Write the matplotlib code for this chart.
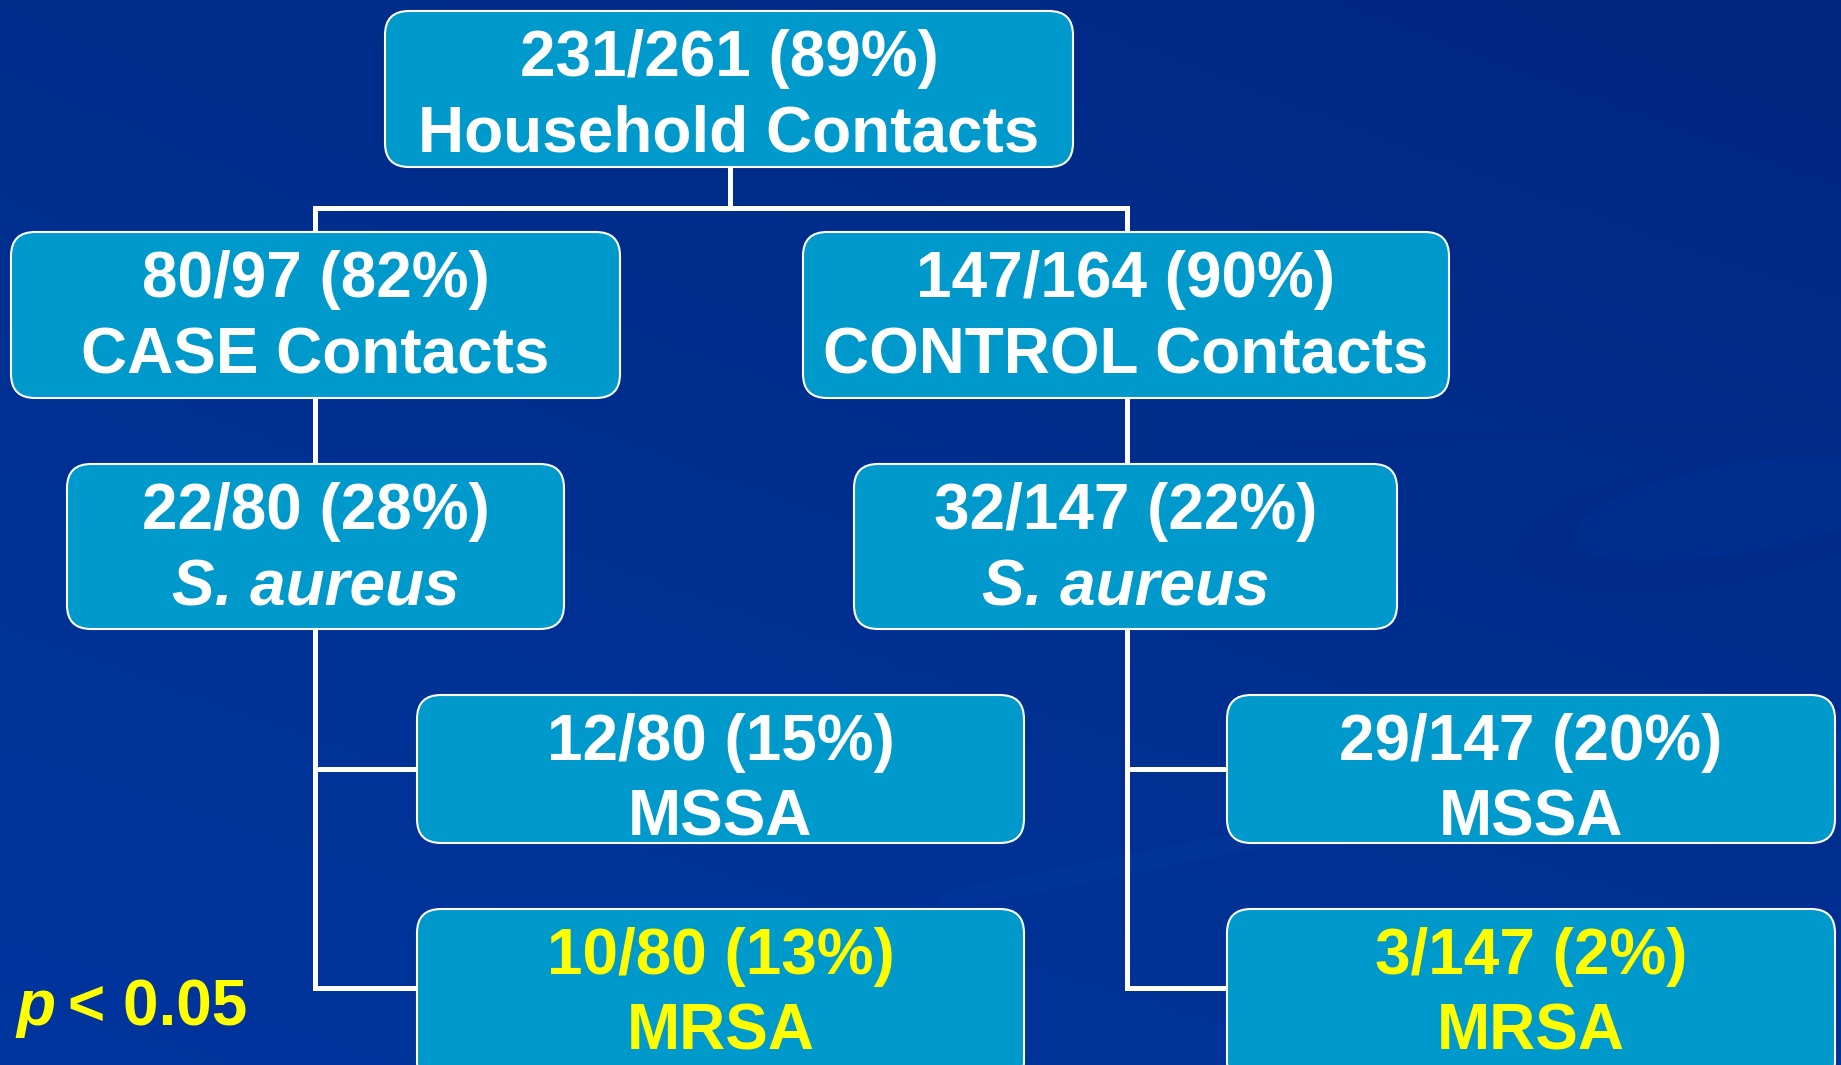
import numpy as np
import matplotlib
matplotlib.use("Agg")
import matplotlib.pyplot as plt
from matplotlib.patches import FancyBboxPatch, Ellipse

# tree values
numerators = [231, 80, 147, 22, 32, 12, 29, 10, 3]
denominators = [261, 97, 164, 80, 147, 80, 147, 80, 147]
percents = [89, 82, 90, 28, 22, 15, 20, 13, 2]
names = ["Household Contacts", "CASE Contacts", "CONTROL Contacts",
         "S. aureus", "S. aureus", "MSSA", "MSSA", "MRSA", "MRSA"]
p_label = "< 0.05"

# layout in pixels (x0, y0, x1, y1)
boxes = [
    (385, 11, 1073, 167),
    (11, 232, 620, 398),
    (803, 232, 1449, 398),
    (67, 464, 564, 629),
    (854, 464, 1397, 629),
    (417, 695, 1024, 843),
    (1227, 695, 1835, 843),
    (417, 909, 1024, 1085),
    (1227, 909, 1835, 1085),
]
yellow_nodes = {7, 8}
italic_nodes = {3, 4}

W, H = 1841, 1065
fig = plt.figure(figsize=(W / 100, H / 100), dpi=100)
ax = fig.add_axes([0, 0, 1, 1])
ax.set_xlim(0, W)
ax.set_ylim(H, 0)
ax.axis("off")

# background gradient
yy, xx = np.mgrid[0:1:200j, 0:1:300j]
t = np.clip(0.55 * yy + 0.25 * (1 - xx) * yy + 0.35 * (1 - yy) * (1 - xx) + 0.2, 0, 1)
top = np.array([0.0, 0.14, 0.47])
bot = np.array([0.0, 0.21, 0.62])
bg = top[None, None, :] * (1 - t[..., None]) + bot[None, None, :] * t[..., None]
ax.imshow(bg, extent=[0, W, H, 0], aspect="auto", zorder=0)

# subtle swirl shapes on the right
ax.add_patch(Ellipse((1720, 520), 420, 130, angle=-10, fc=(0.0, 0.16, 0.52), ec="none", alpha=0.35, zorder=0.5))
ax.add_patch(Ellipse((1740, 508), 340, 90, angle=-10, fc=(0.0, 0.2, 0.6), ec="none", alpha=0.45, zorder=0.6))
ax.plot([950, 1300, 1841], [900, 830, 740], color=(0.05, 0.25, 0.65), lw=14, alpha=0.2, zorder=0.5)
ax.plot([1000, 1400, 1841], [460, 440, 420], color=(0.0, 0.17, 0.52), lw=8, alpha=0.25, zorder=0.5)

lw = 3.6
line_kw = dict(color="white", lw=lw, solid_capstyle="projecting", zorder=1)

# connectors
ax.plot([730, 730], [167, 208], **line_kw)
ax.plot([315, 1127], [208, 208], **line_kw)
ax.plot([315, 315], [208, 232], **line_kw)
ax.plot([1127, 1127], [208, 232], **line_kw)
ax.plot([315, 315], [398, 464], **line_kw)
ax.plot([1127, 1127], [398, 464], **line_kw)
for xv, xb in [(315, 417), (1127, 1227)]:
    ax.plot([xv, xv], [629, 988], **line_kw)
    ax.plot([xv, xb], [769, 769], **line_kw)
    ax.plot([xv, xb], [988, 988], **line_kw)

for i, (x0, y0, x1, y1) in enumerate(boxes):
    ax.add_patch(FancyBboxPatch((x0, y0), x1 - x0, y1 - y0,
                                boxstyle="round,pad=0,rounding_size=24",
                                fc="#0099cc", ec="white", lw=1.5, zorder=2))
    col = "#ffff00" if i in yellow_nodes else "white"
    cx = (x0 + x1) / 2
    ty = y0 + 48
    ax.text(cx, ty, f"{numerators[i]}/{denominators[i]} ({percents[i]}%)",
            ha="center", va="center", color=col, fontsize=46,
            fontfamily="Liberation Sans", fontweight="bold", zorder=3)
    ax.text(cx, ty + 76, names[i], ha="center", va="center", color=col,
            fontsize=46, fontfamily="Liberation Sans", fontweight="bold",
            fontstyle="italic" if i in italic_nodes else "normal", zorder=3)

ax.text(16, 1008, "p", ha="left", va="center", color="#ffff00", fontsize=46,
        fontfamily="Liberation Sans", fontweight="bold", fontstyle="italic")
ax.text(68, 1008, p_label, ha="left", va="center", color="#ffff00", fontsize=46,
        fontfamily="Liberation Sans", fontweight="bold")

fig.savefig("out.png", dpi=100)
